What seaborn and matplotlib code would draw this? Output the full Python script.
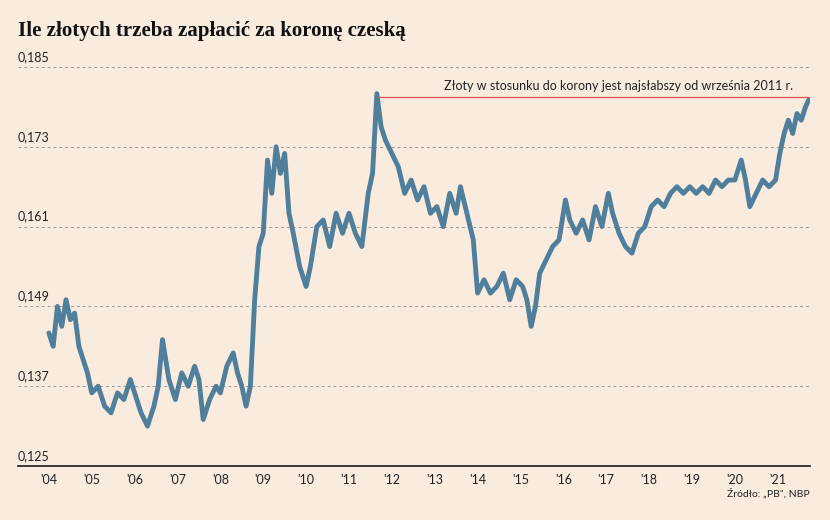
import matplotlib
matplotlib.use("Agg")
import matplotlib.pyplot as plt
import seaborn as sns
import pandas as pd

years = [2004.0,2004.1,2004.2,2004.3,2004.4,2004.5,2004.6,2004.7,2004.8,2004.9,
 2005.0,2005.15,2005.3,2005.45,2005.6,2005.75,2005.9,
 2006.0,2006.15,2006.3,2006.45,2006.55,2006.65,2006.8,2006.95,
 2007.1,2007.25,2007.4,2007.5,2007.6,2007.75,2007.9,
 2008.0,2008.15,2008.3,2008.4,2008.5,2008.6,2008.7,2008.8,2008.9,2009.0,2009.1,2009.2,2009.3,2009.4,2009.5,2009.6,2009.7,2009.85,
 2010.0,2010.1,2010.25,2010.4,2010.55,2010.7,2010.85,
 2011.0,2011.15,2011.3,2011.45,2011.55,2011.65,2011.75,2011.85,2012.0,2012.15,2012.3,2012.45,2012.6,2012.75,2012.9,
 2013.05,2013.2,2013.35,2013.5,2013.6,2013.75,2013.9,2014.0,2014.15,2014.3,2014.45,2014.6,2014.75,2014.9,
 2015.05,2015.15,2015.25,2015.35,2015.45,2015.6,2015.75,2015.9,2016.05,2016.15,2016.3,2016.45,2016.6,2016.75,2016.9,
 2017.05,2017.15,2017.3,2017.45,2017.6,2017.75,2017.9,2018.05,2018.2,2018.35,2018.5,2018.65,2018.8,2018.95,
 2019.1,2019.25,2019.4,2019.55,2019.7,2019.85,2020.0,2020.15,2020.25,2020.35,2020.5,2020.65,2020.8,2020.95,
 2021.05,2021.15,2021.25,2021.35,2021.45,2021.55,2021.65,2021.72]
rates = [0.145,0.143,0.149,0.146,0.150,0.147,0.148,0.143,0.141,0.139,
 0.136,0.137,0.134,0.133,0.136,0.135,0.138,
 0.136,0.133,0.131,0.134,0.137,0.144,0.138,0.135,
 0.139,0.137,0.140,0.138,0.132,0.135,0.137,
 0.136,0.140,0.142,0.139,0.137,0.134,0.137,0.150,0.158,0.160,0.171,0.166,0.173,0.169,0.172,0.163,0.160,0.155,
 0.152,0.155,0.161,0.162,0.158,0.163,0.160,
 0.163,0.160,0.158,0.166,0.169,0.181,0.176,0.174,0.172,0.170,0.166,0.168,0.165,0.167,0.163,
 0.164,0.161,0.166,0.163,0.167,0.163,0.159,0.151,0.153,0.151,0.152,0.154,0.150,0.153,
 0.152,0.150,0.146,0.149,0.154,0.156,0.158,0.159,0.165,0.162,0.160,0.162,0.159,0.164,0.161,
 0.166,0.163,0.160,0.158,0.157,0.160,0.161,0.164,0.165,0.164,0.166,0.167,0.166,0.167,
 0.166,0.167,0.166,0.168,0.167,0.168,0.168,0.171,0.168,0.164,0.166,0.168,0.167,0.168,
 0.172,0.175,0.177,0.175,0.178,0.177,0.179,0.180]
yticks = [0.125,0.137,0.149,0.161,0.173,0.185]
xticks = list(range(2004,2022))
xlabels = ["'%02d" % (y % 100) for y in xticks]

bg = "#f9ecdf"
sns.set_theme(style="white")
plt.rcParams['font.family'] = ['Lato', 'DejaVu Sans']
fig = plt.figure(figsize=(8.3,5.2), dpi=100, facecolor=bg)
ax = fig.add_axes([0.0217,0.1038,0.954,0.7674], facecolor=bg)
df = pd.DataFrame({"year":years,"rate":rates})
sns.lineplot(data=df, x="year", y="rate", ax=ax, color="#4f7f9b", lw=3.5)
ax.set_xlim(2003.28,2021.75)
ax.set_ylim(0.125,0.185)
for t in yticks[1:]:
    ax.axhline(t, color="#999999", lw=0.7, ls=(0,(3,3)), zorder=0)
    ax.text(2003.28, t+0.0006, ("%.3f" % t).replace(".",","), fontsize=9, color="#222222", va="bottom")
ax.text(2003.28, 0.1256, "0,125", fontsize=9, color="#222222", va="bottom")
ax.set_yticks([])
ax.set_xticks(xticks)
ax.set_xticklabels(xlabels, fontsize=9, color="#222222")
ax.tick_params(axis='x', length=0, pad=6)
for s in ["top","right","left"]:
    ax.spines[s].set_visible(False)
ax.spines["bottom"].set_color("#222222")
ax.set_xlabel(""); ax.set_ylabel("")
ax.plot([2011.65,2021.72],[0.1805,0.1805], color="#d9534f", lw=0.9)
ax.text(2021.35, 0.1812, "Złoty w stosunku do korony jest najsłabszy od września 2011 r.",
        ha="right", va="bottom", fontsize=9, color="#222222")
fig.text(0.022, 0.94, "Ile złotych trzeba zapłacić za koronę czeską", fontsize=15, fontweight="bold",
         family="Liberation Serif", color="#111111", va="center")
fig.text(0.975, 0.045, "Źródło: „PB\", NBP", fontsize=7.5, ha="right", color="#222222")
fig.savefig("out.png", dpi=100, facecolor=bg)
